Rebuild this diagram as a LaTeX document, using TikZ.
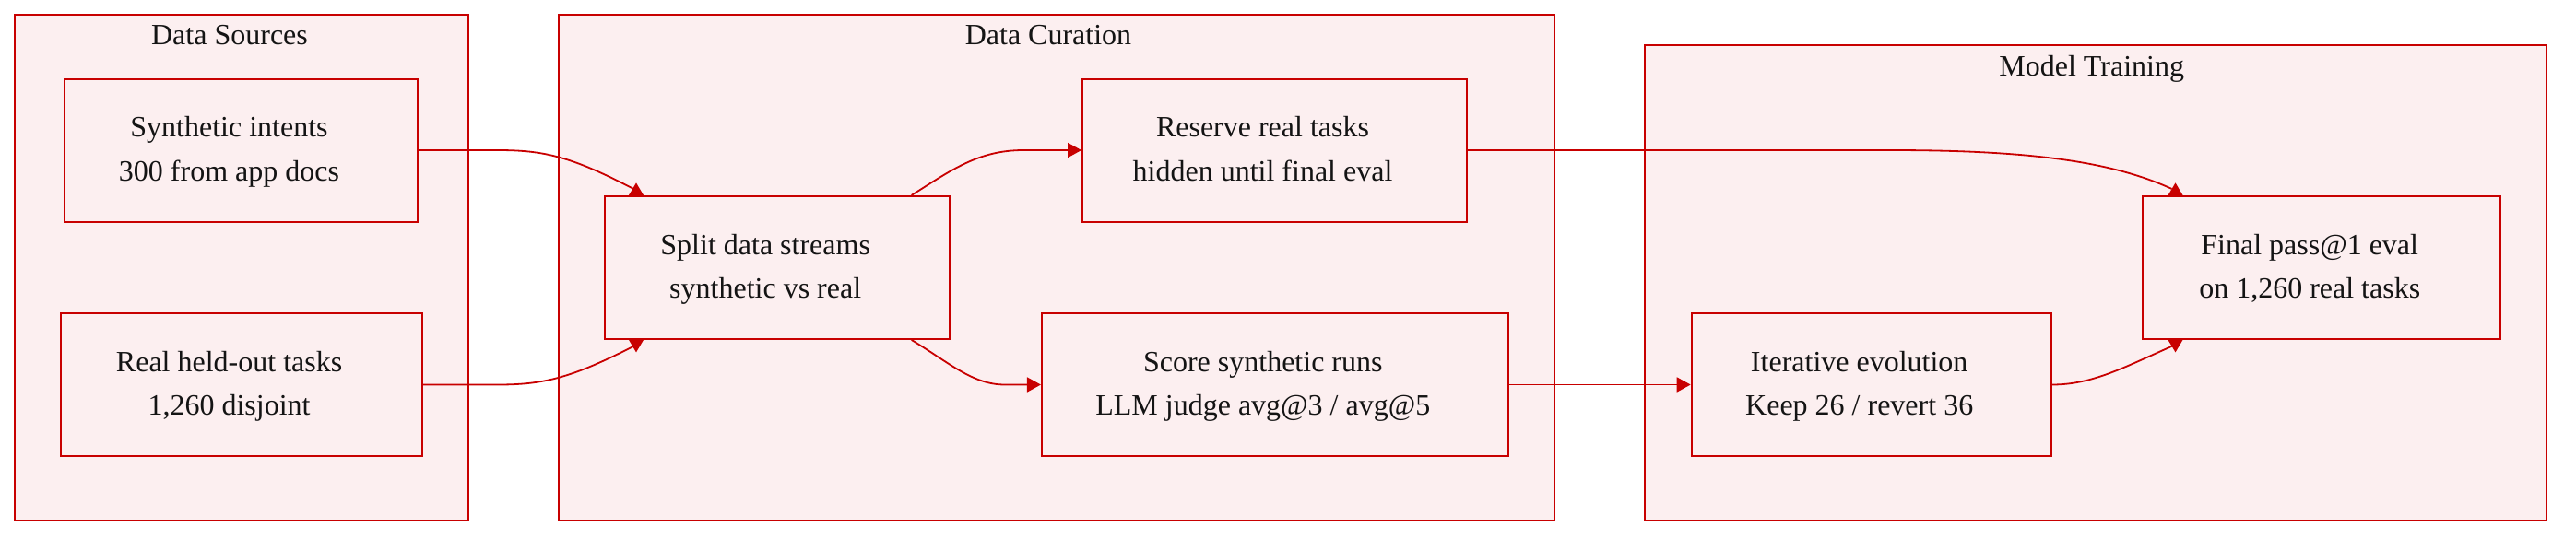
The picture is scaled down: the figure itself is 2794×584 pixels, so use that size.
\documentclass[tikz,border=0pt]{standalone}
\usepackage{fontspec}
\setmainfont{Liberation Serif}
\usetikzlibrary{arrows.meta,calc}
\definecolor{ared}{RGB}{200,0,0}
\definecolor{afill}{RGB}{252,239,240}
\definecolor{atext}{RGB}{20,20,20}
\newcommand{\rsh}{\hspace*{26pt}}
\begin{document}
\begin{tikzpicture}[x=1pt,y=-1pt,
  cluster/.style={draw=ared,fill=afill,line width=2pt},
  ctitle/.style={anchor=base,inner sep=0pt,text=atext,font=\fontsize{32}{47.4}\selectfont},
  box/.style={draw=ared,fill=afill,line width=2pt,inner sep=0pt,align=center,text=atext,
    minimum height=155pt,font=\fontsize{32}{47.4}\selectfont},
  edge/.style={draw=ared,line width=1.8pt},
  arr/.style={edge,-{Triangle[length=15pt,width=16pt]}},
  tipfill/.style={fill=ared}]
\useasboundingbox (0,0) rectangle (2794,584);
% clusters
\draw[cluster] (15.6,15.6) rectangle (507.6,565);
\draw[cluster] (606.4,15.6) rectangle (1685.7,565);
\draw[cluster] (1784.4,49.2) rectangle (2762,565);
\node[ctitle] (tds) at (249,48) {Data Sources};
\node[ctitle] (tdc) at (1137,48) {Data Curation};
\node[ctitle] (tmt) at (2268.7,82) {Model Training};
% nodes
\node[box,minimum width=383pt] (synth) at (261.5,163) {\strut Synthetic intents\rsh\\\strut 300 from app docs\rsh};
\node[box,minimum width=392pt] (real) at (261.6,417.5) {\strut Real held-out tasks\rsh\\\strut 1,260 disjoint\rsh};
\node[box,minimum width=373.6pt] (split) at (843.2,290.4) {\strut Split data streams\rsh\\\strut synthetic vs real\rsh};
\node[box,minimum width=417pt] (reserve) at (1382.5,163) {\strut Reserve real tasks\rsh\\\strut hidden until final eval\rsh};
\node[box,minimum width=505.7pt] (score) at (1382.8,417.5) {\strut Score synthetic runs\rsh\\\strut LLM judge avg@3 / avg@5\rsh};
\node[box,minimum width=390pt] (iter) at (2029.7,417.5) {\strut Iterative evolution\rsh\\\strut Keep 26 / revert 36\rsh};
\node[box,minimum width=388.5pt] (final) at (2518.2,290.4) {\strut Final pass@1 eval\rsh\\\strut on 1,260 real tasks\rsh};
% tip points
\coordinate (stop) at ([xshift=-153.2pt]split.north);
\coordinate (sbot) at ([xshift=-153.2pt]split.south);
\coordinate (ftop) at ([xshift=-158.7pt]final.north);
\coordinate (fbot) at ([xshift=-158.7pt]final.south);
% edges
\draw[edge] (synth.east) -- (540,163) .. controls (590,163) and (620,170) .. ($(stop)+(-3,-7)$);
\fill[tipfill] ($(stop)+(-8,0)$) -- ($(stop)+(8,0)$) -- ($(stop)+(0,-13.5)$) -- cycle;
\draw[edge] (real.east) -- (540,417.5) .. controls (590,417.5) and (620,410) .. ($(sbot)+(-3,7)$);
\fill[tipfill] ($(sbot)+(-8,0)$) -- ($(sbot)+(8,0)$) -- ($(sbot)+(0,13.5)$) -- cycle;
\draw[arr] ([xshift=145.4pt]split.north) .. controls (1030,186) and (1060,163) .. (1110,163) -- (reserve.west);
\draw[arr] ([xshift=145.4pt]split.south) .. controls (1030,394) and (1055,417.5) .. (1090,417.5) -- (score.west);
\draw[edge] (reserve.east) -- (2050,163) .. controls (2200,163) and (2290,175) .. ($(ftop)+(-4,-7)$);
\fill[tipfill] ($(ftop)+(-8,0)$) -- ($(ftop)+(8,0)$) -- ($(ftop)+(0,-13.5)$) -- cycle;
\draw[arr] (score.east) -- (iter.west);
\draw[edge] (iter.east) .. controls (2270,417.5) and (2305,398) .. ($(fbot)+(-4,7)$);
\fill[tipfill] ($(fbot)+(-8,0)$) -- ($(fbot)+(8,0)$) -- ($(fbot)+(0,13.5)$) -- cycle;
\end{tikzpicture}
\end{document}
